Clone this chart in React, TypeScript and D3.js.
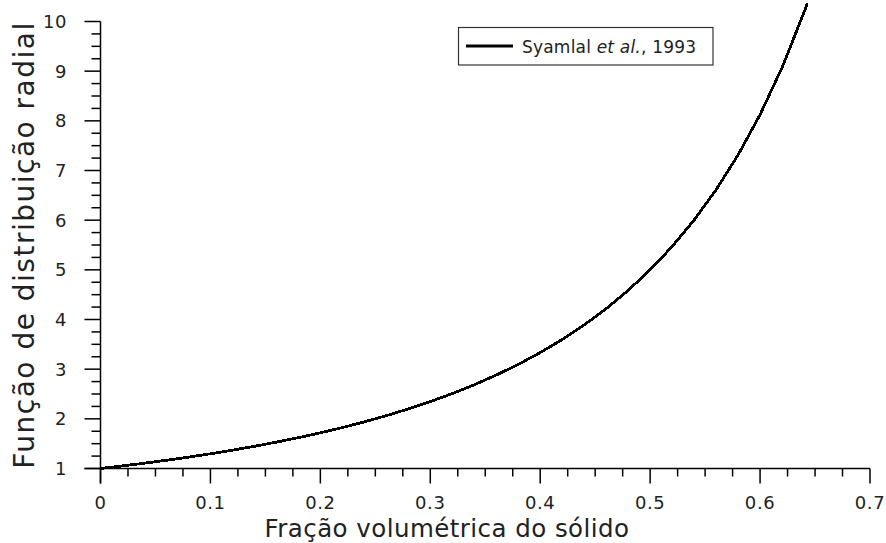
import React from "react";
import * as d3 from "d3";

// Data: solid volume fraction vs radial distribution function
const fracaoSolido = [0, 0.02, 0.04, 0.06, 0.08, 0.1, 0.12, 0.14, 0.16, 0.18, 0.2, 0.22, 0.24, 0.26, 0.28, 0.3, 0.32, 0.34, 0.36, 0.38, 0.4, 0.42, 0.44, 0.46, 0.48, 0.5, 0.52, 0.54, 0.56, 0.58, 0.6, 0.62, 0.64, 0.643];
const funcaoRadial = [1.0, 1.052, 1.107, 1.166, 1.229, 1.296, 1.369, 1.447, 1.531, 1.621, 1.719, 1.824, 1.939, 2.064, 2.199, 2.347, 2.509, 2.686, 2.881, 3.096, 3.333, 3.597, 3.89, 4.218, 4.586, 5.0, 5.469, 6.002, 6.612, 7.313, 8.125, 9.072, 10.185, 10.37];

const xTicks = [0, 0.1, 0.2, 0.3, 0.4, 0.5, 0.6, 0.7];
const yTicks = [1, 2, 3, 4, 5, 6, 7, 8, 9, 10];
const legendLabel = ["Syamlal ", "et al.", ", 1993"];
const xTitle = "Fração volumétrica do sólido";
const yTitle = "Função de distribuição radial";

const W = 886;
const H = 543;
const FONT = "DejaVu Sans, Verdana, sans-serif";

export default function App() {
  const x = d3.scaleLinear().domain([0, 0.7]).range([100.5, 870]);
  const y = d3.scaleLinear().domain([1, 10]).range([468.5, 21.5]);

  const xMinor = d3.range(0, 0.7 + 1e-9, 0.025).filter((v) => Math.abs(v * 10 - Math.round(v * 10)) > 1e-6);
  const yMinor = d3.range(1, 10 + 1e-9, 0.25).filter((v) => Math.abs(v - Math.round(v)) > 1e-6);

  const pts = fracaoSolido.map((v, i) => [v, funcaoRadial[i]] as [number, number]);
  const line = d3
    .line<[number, number]>()
    .x((d) => x(d[0]))
    .y((d) => y(d[1]));

  const axisColor = "#000";
  const textColor = "#222";

  return (
    <svg width={W} height={H} style={{ position: "absolute", left: 0, top: 0, background: "#fff" }}>
      <rect x={0} y={0} width={W} height={H} fill="#fff" />
      {/* curve */}
      <path d={line(pts) || ""} fill="none" stroke="#000" strokeWidth={2.8} shapeRendering="crispEdges" />

      {/* y axis */}
      <line x1={x(0)} x2={x(0)} y1={y(10)} y2={y(1) + 15} stroke={axisColor} strokeWidth={1.5} />
      {yTicks.map((t) => (
        <g key={"yt" + t}>
          <line x1={x(0) - 16} x2={x(0)} y1={y(t)} y2={y(t)} stroke={axisColor} strokeWidth={1.5} />
          <text x={67} y={y(t)} dy="0.36em" textAnchor="end" fontFamily={FONT} fontSize={18} letterSpacing={0.6} fill={textColor}>
            {t}
          </text>
        </g>
      ))}
      {yMinor.map((t) => (
        <line key={"ym" + t} x1={x(0) - 9} x2={x(0)} y1={y(t)} y2={y(t)} stroke={axisColor} strokeWidth={1.5} />
      ))}

      {/* x axis */}
      <line x1={x(0) - 16} x2={x(0.7)} y1={y(1)} y2={y(1)} stroke={axisColor} strokeWidth={1.5} />
      {xTicks.map((t) => (
        <g key={"xt" + t}>
          <line x1={x(t)} x2={x(t)} y1={y(1)} y2={y(1) + 15} stroke={axisColor} strokeWidth={1.5} />
          <text x={x(t)} y={509} textAnchor="middle" fontFamily={FONT} fontSize={18} letterSpacing={0.6} fill={textColor}>
            {t}
          </text>
        </g>
      ))}
      {xMinor.map((t) => (
        <line key={"xm" + t} x1={x(t)} x2={x(t)} y1={y(1)} y2={y(1) + 8} stroke={axisColor} strokeWidth={1.5} />
      ))}

      {/* titles */}
      <text x={447} y={537} textAnchor="middle" fontFamily={FONT} fontSize={24.5} letterSpacing={0.45} fill={textColor}>
        {xTitle}
      </text>
      <text
        transform={`translate(34, 245) rotate(-90)`}
        textAnchor="middle"
        fontFamily={FONT}
        fontSize={28}
        letterSpacing={1.5}
        fill={textColor}
      >
        {yTitle}
      </text>

      {/* legend */}
      <rect x={458.5} y={27.5} width={254.5} height={37.5} fill="#fff" stroke="#333" strokeWidth={1.2} />
      <line x1={466} x2={513} y1={46} y2={46} stroke="#000" strokeWidth={3} />
      <text x={522} y={52.5} fontFamily={FONT} fontSize={17} letterSpacing={0.2} fill={textColor}>
        {legendLabel[0]}
        <tspan fontStyle="italic">{legendLabel[1]}</tspan>
        {legendLabel[2]}
      </text>
    </svg>
  );
}
